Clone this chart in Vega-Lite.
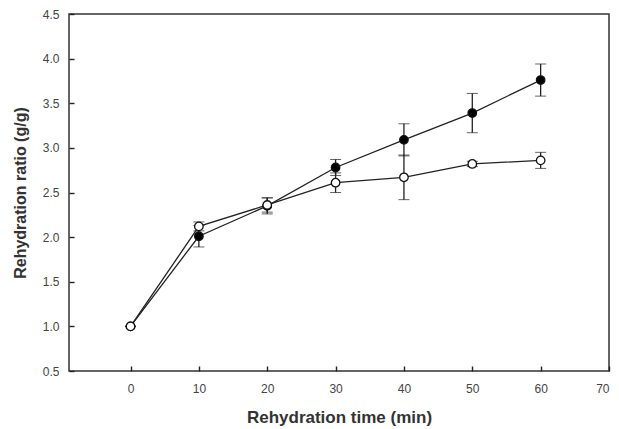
{
  "$schema": "https://vega.github.io/schema/vega-lite/v6.json",
  "width": 540,
  "height": 357,
  "autosize": {"type": "none"},
  "padding": {"left": 69, "top": 14, "right": 10, "bottom": 58},
  "background": "white",
  "config": {
    "font": "Liberation Sans",
    "view": {"stroke": "#333", "strokeWidth": 1.5},
    "axis": {
      "grid": false,
      "domain": false,
      "labelFont": "Liberation Sans",
      "labelFontSize": 12,
      "labelColor": "#444",
      "titleFont": "Liberation Sans",
      "titleFontSize": 16,
      "titleFontWeight": "bold",
      "titleColor": "#333"
    }
  },
  "data": {
    "values": [
      {"time": 0, "series": "filled", "mean": 1.0, "sd": 0.0},
      {"time": 10, "series": "filled", "mean": 2.01, "sd": 0.12},
      {"time": 20, "series": "filled", "mean": 2.35, "sd": 0.09},
      {"time": 30, "series": "filled", "mean": 2.78, "sd": 0.09},
      {"time": 40, "series": "filled", "mean": 3.09, "sd": 0.18},
      {"time": 50, "series": "filled", "mean": 3.39, "sd": 0.22},
      {"time": 60, "series": "filled", "mean": 3.76, "sd": 0.18},
      {"time": 0, "series": "open", "mean": 1.0, "sd": 0.0},
      {"time": 10, "series": "open", "mean": 2.12, "sd": 0.05},
      {"time": 20, "series": "open", "mean": 2.36, "sd": 0.08},
      {"time": 30, "series": "open", "mean": 2.61, "sd": 0.11},
      {"time": 40, "series": "open", "mean": 2.67, "sd": 0.25},
      {"time": 50, "series": "open", "mean": 2.82, "sd": 0.03},
      {"time": 60, "series": "open", "mean": 2.86, "sd": 0.09}
    ]
  },
  "encoding": {
    "x": {
      "field": "time",
      "type": "quantitative",
      "scale": {"domain": [-9, 70], "nice": false, "zero": false},
      "axis": {
        "title": "Rehydration time (min)",
        "titleFontSize": 17,
        "values": [0, 10, 20, 30, 40, 50, 60, 70],
        "offset": -5,
        "tickSize": 5,
        "tickColor": "#222",
        "tickWidth": 1.4,
        "zindex": 3,
        "labelPadding": 12,
        "titlePadding": 15
      }
    },
    "y": {
      "field": "mean",
      "type": "quantitative",
      "scale": {"domain": [0.5, 4.5], "nice": false, "zero": false},
      "axis": {
        "title": "Rehydration ratio (g/g)",
        "values": [0.5, 1.0, 1.5, 2.0, 2.5, 3.0, 3.5, 4.0, 4.5],
        "format": ".1f",
        "offset": -5,
        "tickSize": 5,
        "tickColor": "#222",
        "tickWidth": 1.4,
        "zindex": 3,
        "labelPadding": 10,
        "titlePadding": 14
      }
    }
  },
  "layer": [
    {
      "mark": {"type": "line", "color": "#222", "strokeWidth": 1.3},
      "encoding": {"detail": {"field": "series"}}
    },
    {
      "mark": {"type": "errorbar", "ticks": {"size": 11, "color": "#222", "strokeWidth": 1.3}, "rule": {"color": "#222", "strokeWidth": 1.3}},
      "encoding": {
        "y": {"field": "mean", "type": "quantitative"},
        "yError": {"field": "sd"},
        "detail": {"field": "series"}
      }
    },
    {
      "mark": {"type": "point", "shape": "circle", "size": 72, "stroke": "#111", "strokeWidth": 1.3, "filled": false, "opacity": 1},
      "encoding": {
        "fill": {
          "field": "series",
          "type": "nominal",
          "scale": {"domain": ["filled", "open"], "range": ["#000000", "#ffffff"]},
          "legend": null
        },
        "order": {"field": "series", "sort": "ascending"}
      }
    }
  ]
}
